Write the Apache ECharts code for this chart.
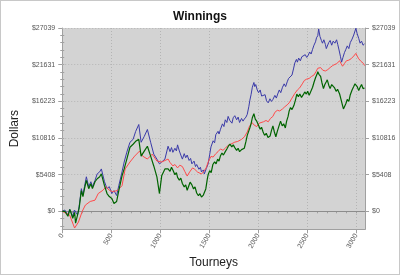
<!DOCTYPE html>
<html><head><meta charset="utf-8">
<script src="https://cdn.jsdelivr.net/npm/echarts@6/dist/echarts.min.js"></script>
<style>html,body{margin:0;padding:0;background:#fff}#c{width:400px;height:275px;box-sizing:border-box;border:1px solid #c8c8c8}</style>
</head><body><div id="c"></div>
<script>
var yTickValues = [0, 5408, 10816, 16223, 21631, 27039];
var xTickLabels = [0, 500, 1000, 1500, 2000, 2500, 3000];
var blueSeries = [[0,0],[26,190],[58,-540],[75,290],[107,-730],[124,190],[156,-540],[172,730],[195,3340],[211,2370],[227,3640],[246,5090],[270,3640],[292,4360],[308,3640],[334,4550],[357,5530],[382,5820],[399,6250],[431,4360],[457,3340],[480,3640],[506,2620],[528,3050],[555,2330],[577,3780],[610,5820],[632,7270],[659,8720],[691,10180],[723,10610],[749,11780],[781,12800],[805,10180],[837,11050],[869,12070],[902,10180],[934,8430],[966,7700],[992,7000],[1015,7270],[1048,7710],[1080,9600],[1100,8800],[1115,9400],[1129,8700],[1150,9300],[1165,8900],[1177,9800],[1195,8900],[1210,8300],[1226,7700],[1245,8500],[1260,7900],[1275,8300],[1295,7500],[1310,7800],[1323,7000],[1345,7400],[1360,6600],[1372,6900],[1395,6200],[1410,6500],[1421,5800],[1440,6100],[1450,5500],[1470,6300],[1489,7000],[1505,8400],[1518,9500],[1540,10400],[1555,10100],[1567,11300],[1590,11800],[1600,11400],[1615,12100],[1635,12900],[1650,12500],[1664,13500],[1680,13100],[1693,14000],[1710,13400],[1732,13000],[1745,13800],[1761,14100],[1780,13500],[1795,13900],[1810,13100],[1830,13700],[1845,13300],[1858,13600],[1875,13900],[1888,14300],[1905,15500],[1915,16400],[1927,17200],[1940,18300],[1956,19000],[1965,18400],[1975,18700],[1990,17900],[2004,17500],[2020,17900],[2035,17000],[2053,16800],[2070,17200],[2085,16300],[2102,16000],[2120,16600],[2135,16200],[2150,16500],[2170,17100],[2185,16700],[2199,17300],[2215,17900],[2230,17500],[2248,18300],[2265,18800],[2280,18400],[2296,19100],[2310,19600],[2330,19400],[2345,20100],[2360,21000],[2374,21900],[2390,22400],[2400,22000],[2413,22600],[2430,22200],[2445,22800],[2462,22600],[2480,23100],[2495,22700],[2510,23000],[2525,23500],[2540,23200],[2555,23900],[2569,24500],[2585,25000],[2595,25600],[2608,25900],[2617,26900],[2630,25800],[2645,25200],[2656,24800],[2670,25300],[2686,24600],[2695,24000],[2705,24200],[2720,24900],[2734,25200],[2750,24500],[2765,25100],[2783,24800],[2800,25300],[2812,24600],[2825,23800],[2840,22800],[2851,22000],[2865,22700],[2880,23400],[2895,23900],[2909,24400],[2925,24000],[2940,24900],[2958,25400],[2975,26000],[2988,26600],[2997,27000],[3010,26200],[3026,25500],[3040,24800],[3055,25100],[3070,24500],[3085,24700]];
var redSeries = [[0,0],[75,-540],[126,-2470],[165,-1600],[204,0],[236,920],[285,1450],[334,1640],[367,2620],[415,3100],[448,3640],[480,3100],[513,2900],[561,3050],[610,3780],[642,6250],[691,7270],[739,8140],[788,8870],[820,8140],[869,7710],[918,8430],[966,7420],[1015,7270],[1080,7710],[1100,7200],[1129,6700],[1150,6900],[1177,6400],[1200,6800],[1226,6600],[1250,5900],[1275,5200],[1300,5800],[1330,6400],[1352,6200],[1380,5800],[1400,6000],[1421,5500],[1445,5900],[1469,6400],[1490,7300],[1518,8100],[1540,8000],[1567,8500],[1590,8800],[1615,9200],[1640,9000],[1664,9300],[1690,9700],[1720,9900],[1761,10200],[1790,10300],[1829,10600],[1860,11000],[1888,11700],[1910,12500],[1936,13100],[1960,12700],[1985,12500],[2010,13000],[2030,12800],[2053,13200],[2080,13400],[2102,13200],[2125,13700],[2150,14000],[2170,14600],[2195,14900],[2220,14800],[2248,15100],[2270,15400],[2295,15700],[2316,16000],[2345,16700],[2374,17400],[2400,17900],[2423,18200],[2450,18800],[2471,19300],[2495,19500],[2520,19600],[2545,19900],[2569,20100],[2590,20600],[2608,21100],[2625,21300],[2637,21200],[2660,20800],[2686,20700],[2710,20900],[2734,21200],[2760,21500],[2780,21300],[2802,21800],[2831,22200],[2845,21800],[2861,21400],[2880,21800],[2900,22200],[2925,22300],[2948,22500],[2975,22900],[2997,23300],[3010,22900],[3026,22500],[3050,22100],[3075,21800],[3085,21500]];
var greenSeries = [[0,0],[26,0],[58,-730],[78,290],[107,-1020],[126,-150],[136,-1745],[172,440],[195,3050],[211,2180],[227,3340],[246,4550],[270,3340],[292,4070],[308,3340],[334,4360],[357,4800],[382,5090],[399,5530],[431,3780],[457,2620],[480,2180],[506,1890],[528,1160],[555,1450],[577,3050],[610,5230],[632,6250],[659,7710],[691,9450],[723,9890],[749,10320],[781,10610],[805,8140],[837,8870],[869,9600],[902,8140],[934,6690],[966,5090],[992,2620],[1015,5230],[1048,6250],[1080,6250],[1100,5900],[1115,6500],[1129,6100],[1150,5400],[1165,5700],[1177,5000],[1195,4600],[1210,4900],[1226,4100],[1245,3600],[1260,3900],[1275,3100],[1290,3700],[1305,4300],[1323,3900],[1340,3300],[1355,3600],[1372,2700],[1390,2300],[1405,2600],[1421,2100],[1440,2400],[1450,2200],[1465,3300],[1480,4700],[1489,5400],[1505,6000],[1520,5700],[1537,6900],[1555,7300],[1570,7000],[1586,7700],[1600,7400],[1615,8200],[1630,8600],[1645,8300],[1664,8800],[1680,9200],[1695,9600],[1712,9900],[1730,9500],[1745,9800],[1761,9400],[1780,9000],[1795,9300],[1810,8800],[1830,9100],[1845,8900],[1858,9300],[1875,10300],[1888,11200],[1905,11900],[1915,12300],[1927,12900],[1940,13800],[1956,14400],[1970,13600],[1985,13300],[2000,12800],[2020,12100],[2034,12400],[2050,11700],[2065,11200],[2082,11500],[2100,10900],[2121,11100],[2135,11900],[2150,12600],[2165,11700],[2180,11000],[2195,11800],[2210,12500],[2228,13300],[2245,12600],[2260,12900],[2277,12300],[2290,13300],[2305,14000],[2316,14800],[2330,15300],[2345,15000],[2364,15600],[2380,16400],[2394,17300],[2410,16900],[2425,17300],[2442,16800],[2460,17200],[2475,17600],[2491,17300],[2505,17700],[2520,17100],[2540,17300],[2555,18300],[2569,19000],[2585,19700],[2600,20200],[2608,20600],[2620,20200],[2637,19900],[2650,19000],[2666,18100],[2680,18700],[2695,19100],[2705,19400],[2720,18600],[2734,18100],[2750,18700],[2763,18900],[2780,18200],[2795,17700],[2810,18000],[2831,17300],[2845,16500],[2861,15600],[2870,15100],[2880,15300],[2895,15900],[2909,16500],[2925,16200],[2940,17200],[2958,17900],[2975,18400],[2988,18800],[2997,19000],[3010,18400],[3026,17800],[3040,18300],[3055,18700],[3070,18100],[3085,18200]];

var yMin = -2650, yMax = 27039, xMax = 3090;
var fontFam = '"Liberation Sans", Arial, sans-serif';
var axisGray = '#a0a0a0';
// minor tick positions: five steps between labelled ticks
var yMinor = [];
var yStep = (yTickValues[1] - yTickValues[0]) / 5;
for (var k = -2; k <= 25; k++) { yMinor.push(Math.round(yTickValues[0] + k * yStep)); }
var xMinor = [];
for (var m = 0; m <= 3000; m += 100) { xMinor.push(m); }

function yMajor(pos, showName) {
  return {
    type: 'value', position: pos, min: yMin, max: yMax,
    name: showName ? 'Dollars' : '', nameLocation: 'middle', nameGap: 33,
    nameTextStyle: {fontFamily: fontFam, fontSize: 12, color: '#222'},
    axisLine: {show: true, onZero: false, lineStyle: {color: axisGray}},
    axisTick: {show: true, length: 4, customValues: yTickValues, lineStyle: {color: axisGray}},
    splitLine: {show: false},
    axisLabel: {fontFamily: fontFam, fontSize: 7, color: '#555', margin: 7, customValues: yTickValues,
      formatter: function (v) { return '$' + Math.round(v); }}
  };
}
function yMinorAxis(pos) {
  return {
    type: 'value', position: pos, min: yMin, max: yMax,
    axisLine: {show: false}, splitLine: {show: false}, axisLabel: {show: false},
    axisTick: {show: true, length: 2, customValues: yMinor, lineStyle: {color: axisGray}}
  };
}
var gridLines = [];
yTickValues.forEach(function (v) { if (v !== 0) gridLines.push({yAxis: v}); });

var chart = echarts.init(document.getElementById('c'), null, {renderer: 'canvas'});
chart.setOption({
  animation: false,
  title: {text: 'Winnings', left: 'center', top: 5, textStyle: {fontFamily: fontFam, fontSize: 12, fontWeight: 'bold', color: '#111'}},
  grid: {left: 49, right: 34, top: 27, bottom: 44, show: true, backgroundColor: '#d3d3d3', borderWidth: 0},
  xAxis: [{
    type: 'value', min: 0, max: xMax, interval: 500,
    name: 'Tourneys', nameLocation: 'middle', nameGap: 25,
    nameTextStyle: {fontFamily: fontFam, fontSize: 12, color: '#222'},
    axisLine: {show: true, onZero: false, lineStyle: {color: axisGray}},
    axisTick: {show: true, length: 4, lineStyle: {color: axisGray}},
    splitLine: {show: true, lineStyle: {color: '#b4b4b4', type: [1, 2]}},
    axisLabel: {fontFamily: fontFam, fontSize: 7, color: '#555', rotate: 60, margin: 5, showMaxLabel: false,
      formatter: function (v) { return xTickLabels.indexOf(v) >= 0 ? String(v) : ''; }}
  }, {
    type: 'value', min: 0, max: xMax, position: 'bottom',
    axisLine: {show: false}, splitLine: {show: false}, axisLabel: {show: false},
    axisTick: {show: true, length: 2, customValues: xMinor, lineStyle: {color: axisGray}}
  }],
  yAxis: [yMajor('left', true), yMajor('right', false), yMinorAxis('left'), yMinorAxis('right')],
  series: [
    {type: 'line', data: blueSeries, showSymbol: false, lineStyle: {color: '#3a3aa8', width: 1}, z: 3,
     markLine: {silent: true, symbol: 'none', label: {show: false}, lineStyle: {color: '#b4b4b4', type: [1, 2], width: 1}, data: gridLines, z: 1}},
    {type: 'line', data: redSeries, showSymbol: false, lineStyle: {color: '#ff4a4a', width: 1}, z: 3,
     markLine: {silent: true, symbol: 'none', label: {show: false}, lineStyle: {color: '#8c8c8c', type: 'solid', width: 1}, data: [{yAxis: 0}], z: 1}},
    {type: 'line', data: greenSeries, showSymbol: false, lineStyle: {color: '#006400', width: 1.2}, z: 4}
  ]
});
</script></body></html>
